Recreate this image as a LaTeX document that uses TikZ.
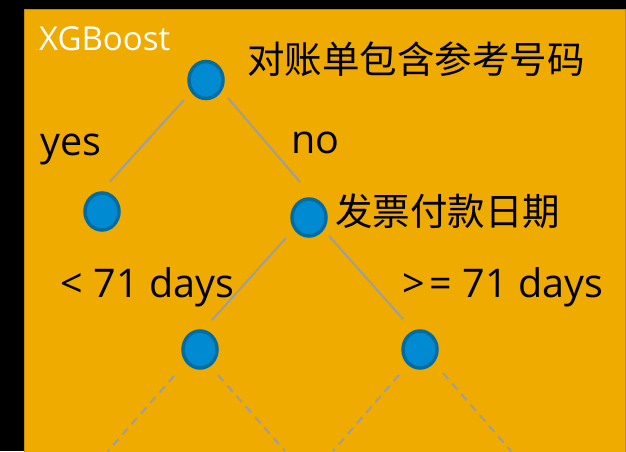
\documentclass[tikz,border=0pt]{standalone}
\usepackage{fontspec}
\setmainfont{Open Sans}
\newfontfamily\cjk{Noto Sans CJK SC}
\usetikzlibrary{calc}
\definecolor{bgorange}{RGB}{239,171,0}
\definecolor{bgedge}{RGB}{196,138,10}
\definecolor{nodefill}{RGB}{0,138,210}
\definecolor{nodering}{RGB}{0,108,164}
\definecolor{edgegray}{RGB}{158,158,158}
\tikzset{
  treenode/.style={ellipse, minimum width=34pt, minimum height=37pt, inner sep=0pt, fill=nodefill, draw=nodering, line width=3.5pt},
  edge/.style={draw=edgegray, line width=2pt},
  dashedge/.style={draw=edgegray, line width=2pt, dash pattern=on 8pt off 6pt},
  lbl/.style={font=\fontsize{39.5}{42}\selectfont, inner sep=0pt, text=black},
  cjklbl/.style={font=\cjk\fontsize{37.5}{40}\selectfont, inner sep=0pt, text=black},
}
\usetikzlibrary{shapes.geometric}
\begin{document}
\begin{tikzpicture}[x=1pt,y=-1pt]
\useasboundingbox (0,0) rectangle (626,451);
\fill[black] (0,0) rectangle (626,451);
\fill[bgorange, draw=bgedge, line width=1pt] (24.5,9.5) rectangle (625.5,470);

\node[anchor=base west, inner sep=0pt, text=white, font=\fontsize{33}{35}\selectfont] (title) at (39,50) {XGBoost};

\node[treenode] (root) at (206,80) {};
\node[treenode] (yes) at (102,211.5) {};
\node[treenode] (n2) at (309,217.5) {};
\node[treenode] (L) at (200,349.5) {};
\node[treenode] (R) at (420,349.5) {};

\node[cjklbl, anchor=west] (q1) at (247,59) {对账单包含参考号码};
\node[cjklbl, anchor=west] (q2) at (335,211) {发票付款日期};

\node[lbl, anchor=base west] (lyes) at (40,155) {yes};
\node[lbl, anchor=base west] (lno) at (291,153) {no};
\node[lbl, anchor=base west] (llt) at (60,297) {<\hspace{0.27em}71\hspace{0.27em}days};
\node[lbl, anchor=base west] (lge) at (402,297) {>\kern0.12em=\hspace{0.27em}71\hspace{0.27em}days};

\draw[edge] ($(root)+(-22,20)$) -- ($(yes)+(8,-30)$);
\draw[edge] ($(root)+(22,18)$) -- ($(n2)+(-9,-35.5)$);
\draw[edge] ($(n2)+(-23,20.5)$) -- ($(L)+(12,-29.5)$);
\draw[edge] ($(n2)+(20,18.5)$) -- ($(R)+(-17,-30.5)$);

\coordinate (e1) at (108,451);
\coordinate (e2) at (285,451);
\coordinate (e3) at (333,451);
\coordinate (e4) at (511,451);
\draw[dashedge] ($(L)+(-26,26.5)$) -- (e1);
\draw[dashedge] ($(L)+(18,25.5)$) -- (e2);
\draw[dashedge] ($(R)+(-21,25.5)$) -- (e3);
\draw[dashedge] ($(R)+(23,23.5)$) -- (e4);
\end{tikzpicture}
\end{document}
